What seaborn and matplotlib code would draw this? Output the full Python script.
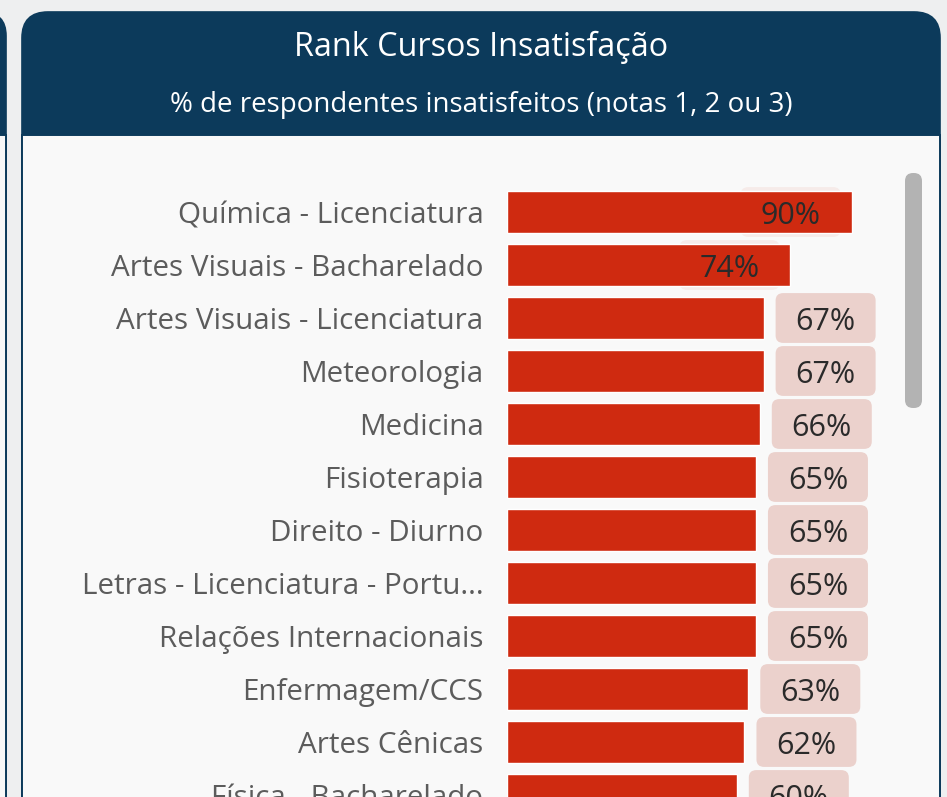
import matplotlib
matplotlib.use("Agg")
import matplotlib.pyplot as plt
import seaborn as sns
import pandas as pd
from matplotlib.patches import FancyBboxPatch, Rectangle

# ---------------- data ----------------
cursos = [
    "Química - Licenciatura",
    "Artes Visuais - Bacharelado",
    "Artes Visuais - Licenciatura",
    "Meteorologia",
    "Medicina",
    "Fisioterapia",
    "Direito - Diurno",
    "Letras - Licenciatura - Portu...",
    "Relações Internacionais",
    "Enfermagem/CCS",
    "Artes Cênicas",
    "Física - Bacharelado",
]
insatisfeitos = [90, 74, 67, 67, 66, 65, 65, 65, 65, 63, 62, 60]
titulo = "Rank Cursos Insatisfação"
subtitulo = "% de respondentes insatisfeitos (notas 1, 2 ou 3)"

# ---------------- style ----------------
sns.set_theme(style="white")
FONT = ["Open Sans", "DejaVu Sans"]
plt.rcParams["font.family"] = FONT

NAVY = "#0c3a5b"
RED = "#cf2a10"
PINK = "#ebd1cc"
W, H = 947, 797

fig = plt.figure(figsize=(W / 100, H / 100), dpi=100)
fig.patch.set_facecolor("#eeeff0")

# background / card frame in pixel coordinates
bg = fig.add_axes([0, 0, 1, 1], zorder=0)
bg.set_xlim(0, W)
bg.set_ylim(H, 0)
bg.axis("off")

# sliver of neighbouring card on the left
bg.add_patch(FancyBboxPatch((-80, 12), 86, 1000, boxstyle="round,pad=0,rounding_size=24",
                            fc=NAVY, ec=NAVY, lw=1.2))
bg.add_patch(Rectangle((-80, 135), 86, 1000, fc="#f8f8f8", ec=NAVY, lw=1.4))

# main card
bg.add_patch(FancyBboxPatch((22, 12), 918, 1000, boxstyle="round,pad=0,rounding_size=26",
                            fc=NAVY, ec=NAVY, lw=1.2))
bg.add_patch(Rectangle((22, 135), 918, 1000, fc="#f9f9f9", ec=NAVY, lw=1.4))

bg.text(481, 47, titulo, color="white", fontsize=23.3, ha="center", va="center")
bg.text(481, 105, subtitulo, color="white", fontsize=20, ha="center", va="center")

# scrollbar
bg.add_patch(FancyBboxPatch((905, 173), 17, 235, boxstyle="round,pad=0,rounding_size=8",
                            fc="#b3b3b3", ec="none"))

# ---------------- bars ----------------
df = pd.DataFrame({"curso": cursos, "valor": insatisfeitos})

px_per_unit = 3.83
top_px = 212 - 53 * 0.5
ax = fig.add_axes([507 / W, 0, 100 * px_per_unit / W, (H - top_px) / H], zorder=1)
ax.patch.set_alpha(0)

sns.barplot(data=df, x="valor", y="curso", color=RED, saturation=1, width=0.78,
            orient="h", ax=ax, zorder=2)
ax.set_xlim(0, 100)
rows_visible = (H - top_px) / 53
ax.set_ylim(-0.5 + rows_visible, -0.5)
ax.set_xlabel("")
ax.set_ylabel("")
ax.set_xticks([])
for s in ax.spines.values():
    s.set_visible(False)
ax.tick_params(axis="y", length=0, pad=17, labelsize=21.3, labelcolor="#5c5c5c")

box_w = 100 / px_per_unit
gap = 12 / px_per_unit
inside_off = 31 / px_per_unit
ry = 0.47
for i, v in enumerate(insatisfeitos):
    lab = f"{v}%"
    if v >= 70:
        cx = v - inside_off - 30 / px_per_unit
        ax.add_patch(FancyBboxPatch((cx - box_w / 2, i - ry), box_w, 2 * ry,
                                    boxstyle="round,pad=0,rounding_size=2",
                                    mutation_aspect=0.07, fc="#f6ebe9", ec="none",
                                    zorder=1, clip_on=False))
        ax.text(v - inside_off, i + 0.08, lab, ha="right", va="center", fontsize=22,
                color="#2a2a2a", zorder=3, clip_on=False)
    else:
        x0 = v + gap
        ax.add_patch(FancyBboxPatch((x0, i - ry), box_w, 2 * ry,
                                    boxstyle="round,pad=0,rounding_size=2",
                                    mutation_aspect=0.07, fc=PINK, ec="none",
                                    zorder=1, clip_on=False))
        ax.text(x0 + box_w / 2, i + 0.08, lab, ha="center", va="center", fontsize=22,
                color="#2a2a2a", zorder=3, clip_on=False)

fig.savefig("out.png", dpi=100, facecolor=fig.get_facecolor())
